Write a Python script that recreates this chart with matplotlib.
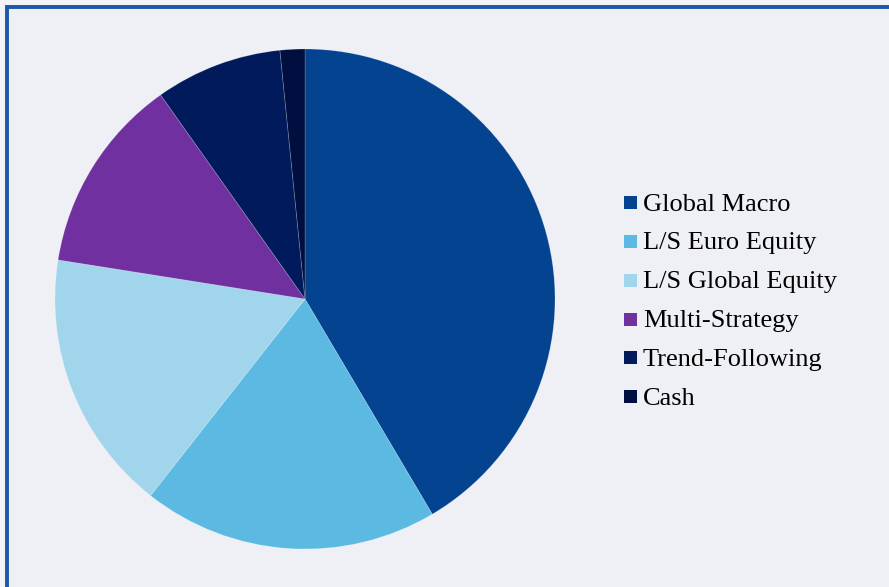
import matplotlib
matplotlib.use('Agg')
import matplotlib.pyplot as plt
import matplotlib.patches as mpatches

# allocation shares, in %
labels = ["Global Macro", "L/S Euro Equity", "L/S Global Equity",
          "Multi-Strategy", "Trend-Following", "Cash"]
shares = [41.5, 19.1, 16.9, 12.7, 8.2, 1.6]
colors = ["#044390", "#5BB9E2", "#A1D5EC", "#7030A0", "#001A5C", "#000F40"]

W, H = 889, 587
fig = plt.figure(figsize=(W / 100, H / 100), dpi=100, facecolor="#F4F4F8")

# frame: only top/left edges fall inside the picture
frame = mpatches.Rectangle((7 / W, -0.1), 1.2, 1.1 - 7 / H,
                           transform=fig.transFigure, facecolor="#EFF0F6",
                           edgecolor="#1D58AB", linewidth=2.8, zorder=-5)
fig.patches.append(frame)

ax = fig.add_axes([55 / W, 38 / H, 500 / W, 500 / H], zorder=2)
ax.set_facecolor("none")
ax.pie(shares, colors=colors, startangle=90, counterclock=False, radius=1,
       wedgeprops=dict(edgecolor=(1, 1, 1, 0.2), linewidth=0.6))
ax.set_xlim(-1, 1)
ax.set_ylim(-1, 1)
ax.set_aspect("equal")
ax.axis("off")

# legend drawn by hand so rows sit where they should
for i, (lab, col) in enumerate(zip(labels, colors)):
    yc = 202.7 + 38.8 * i
    sq = mpatches.Rectangle((624 / W, 1 - (yc + 6.5) / H), 13 / W, 13 / H,
                            transform=fig.transFigure, facecolor=col,
                            edgecolor="none", zorder=1)
    fig.patches.append(sq)
    fig.text(643 / W, 1 - (yc + 2) / H, lab, family="Liberation Serif",
             fontsize=19, color="black", va="center", ha="left")

plt.savefig("out.png", dpi=100, facecolor=fig.get_facecolor())
